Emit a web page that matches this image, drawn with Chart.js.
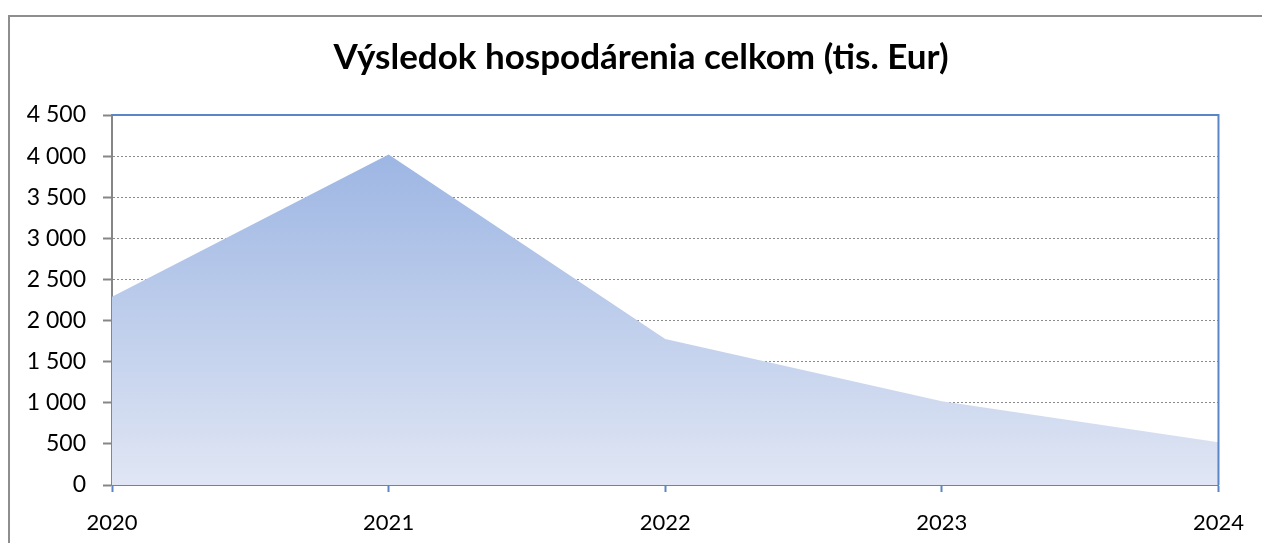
<!DOCTYPE html>
<html>
<head>
<meta charset="utf-8">
<script src="https://cdn.jsdelivr.net/npm/chart.js@4"></script>
<style>
  html, body { margin: 0; padding: 0; background: #ffffff; overflow: hidden; }
  #frame { position: absolute; left: 8px; top: 15px; width: 1400px; height: 700px;
           border-left: 2px solid #8e8e8e; border-top: 2px solid #8e8e8e; box-sizing: border-box; }
  #wrap { position: absolute; left: 0; top: 0; width: 1262px; height: 543px; }
</style>
</head>
<body>
<div id="frame"></div>
<div id="wrap"><canvas id="c" width="1262" height="543"></canvas></div>
<script>
const TITLE = 'Výsledok hospodárenia celkom (tis. Eur)';
const categories = ['2020', '2021', '2022', '2023', '2024'];
const resultValues = [2290, 4020, 1775, 1020, 520];
const yMin = 0;
const yMax = 4500;
const yStep = 500;

const BLUE = '#5b86c5';
const GRAY = '#868686';
const FONT = 'Lato, "Open Sans", sans-serif';

function fmt(v) {
  return String(v).replace(/\B(?=(\d{3})+(?!\d))/g, ' ');
}

const frame = {
  id: 'frameRight',
  afterLayout(chart) {
    if (chart.titleBlock) {
      chart.titleBlock.left = 63;
    }
  },
  afterDatasetsDraw(chart) {
    const a = chart.chartArea, ctx = chart.ctx;
    ctx.save();
    ctx.strokeStyle = BLUE;
    ctx.lineWidth = 2;
    ctx.beginPath();
    ctx.moveTo(a.left, a.top);
    ctx.lineTo(a.right, a.top);
    ctx.lineTo(a.right, a.bottom);
    ctx.stroke();
    ctx.restore();
  }
};

new Chart(document.getElementById('c'), {
  type: 'line',
  data: {
    labels: categories,
    datasets: [{
      data: resultValues,
      fill: 'origin',
      borderWidth: 0,
      borderColor: 'rgba(0,0,0,0)',
      pointRadius: 0,
      tension: 0,
      backgroundColor(ctx) {
        const a = ctx.chart.chartArea;
        if (!a) return '#bccbeb';
        const g = ctx.chart.ctx.createLinearGradient(0, a.top, 0, a.bottom);
        g.addColorStop(0, '#95b0e1');
        g.addColorStop(1, '#e0e6f4');
        return g;
      }
    }]
  },
  options: {
    responsive: false,
    animation: false,
    layout: { padding: { left: 0, right: 43, top: 0, bottom: 0 } },
    plugins: {
      legend: { display: false },
      tooltip: { enabled: false },
      title: {
        display: true,
        text: TITLE,
        color: '#000000',
        font: { family: FONT, size: 35, weight: 'bold', lineHeight: 1.2 },
        padding: { top: 37, bottom: 36 }
      }
    },
    scales: {
      x: {
        offset: false,
        grid: {
          drawOnChartArea: true,
          color: () => 'rgba(0,0,0,0)',
          tickColor: BLUE,
          tickLength: 7,
          tickWidth: 2
        },
        border: { display: true, color: BLUE, width: 2 },
        ticks: {
          color: '#000000',
          font: { family: FONT, size: 22 },
          padding: 18,
          maxRotation: 0,
          autoSkip: false
        },
        afterFit(scale) { scale.height = 58; }
      },
      y: {
        min: yMin,
        max: yMax,
        grid: {
          color(ctx) {
            const v = ctx.tick && ctx.tick.value;
            if (v === yMin || v === yMax) return 'rgba(0,0,0,0)';
            return '#8a8a8a';
          },
          lineWidth: 1,
          tickColor: GRAY,
          tickLength: 9,
          tickWidth: 2,
          tickBorderDash: []
        },
        border: { display: true, color: GRAY, width: 2, dash: [2, 2] },
        ticks: {
          stepSize: yStep,
          color: '#000000',
          font: { family: FONT, size: 23 },
          padding: 17,
          callback: (v) => fmt(v)
        },
        afterFit(scale) { scale.width = 112; }
      }
    }
  },
  plugins: [frame]
});
</script>
</body>
</html>
